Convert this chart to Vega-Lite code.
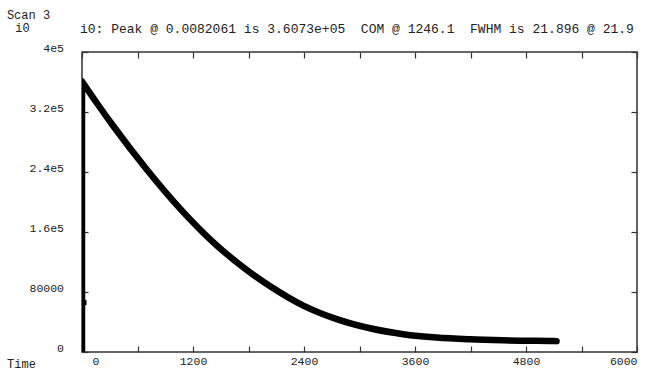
{
  "$schema": "https://vega.github.io/schema/vega-lite/v6.json",
  "width": 555,
  "height": 300,
  "autosize": {"type": "none"},
  "padding": {"left": 82, "top": 52, "right": 9, "bottom": 19},
  "background": "white",
  "config": {
    "view": {"stroke": "#333", "strokeWidth": 1.5},
    "font": "Liberation Mono",
    "axis": {
      "grid": false,
      "domain": false,
      "tickColor": "#333",
      "tickSize": -6,
      "tickWidth": 1.2,
      "labelFont": "Liberation Mono",
      "labelFontSize": 11.5,
      "labelColor": "#222",
      "labelOverlap": false,
      "titleFont": "Liberation Mono",
      "titleFontSize": 12,
      "titleFontWeight": "normal",
      "titleColor": "#222"
    }
  },
  "title": {
    "text": "i0: Peak @ 0.0082061 is 3.6073e+05\u00a0\u00a0COM @ 1246.1\u00a0\u00a0FWHM is 21.896 @ 21.9",
    "anchor": "start",
    "frame": "group",
    "font": "Liberation Mono",
    "fontSize": 13,
    "fontWeight": "normal",
    "color": "#222",
    "offset": -28,
    "dx": -2
  },
  "datasets": {
    "rise": [
      {"i": 0, "t": 0, "v": 0},
      {"i": 1, "t": 0.004, "v": 66000},
      {"i": 2, "t": 0.0082, "v": 360730}
    ],
    "curve": [
      {"t": 0.0082, "v": 360730},
      {"t": 160, "v": 332000},
      {"t": 340, "v": 301000},
      {"t": 700, "v": 243400},
      {"t": 1060, "v": 191200},
      {"t": 1420, "v": 146200},
      {"t": 1780, "v": 109500},
      {"t": 2034, "v": 87700},
      {"t": 2393, "v": 61900},
      {"t": 2754, "v": 43850},
      {"t": 3113, "v": 31650},
      {"t": 3472, "v": 23750},
      {"t": 3833, "v": 19240},
      {"t": 4192, "v": 16900},
      {"t": 4551, "v": 15540},
      {"t": 5091, "v": 14570},
      {"t": 5130, "v": 14500}
    ],
    "dots": [
      {"t": 20, "v": 66000}
    ]
  },
  "layer": [
    {
      "data": {"name": "curve"},
      "mark": {"type": "line", "color": "black", "strokeWidth": 6.5, "strokeCap": "round", "strokeJoin": "round", "interpolate": "monotone", "clip": true},
      "encoding": {
        "x": {
          "field": "t", "type": "quantitative",
          "scale": {"domain": [0, 6000], "nice": false, "zero": false},
          "axis": {
            "orient": "bottom",
            "values": [0, 600, 1200, 1800, 2400, 3000, 3600, 4200, 4800, 5400, 6000],
            "labelExpr": "datum.value % 1200 == 0 ? format(datum.value, 'd') : ''",
            "labelFlush": true,
            "labelPadding": 9.5,
            "labelOffset": {"condition": {"test": "datum.value == 0", "value": 10}, "value": 0},
            "title": "Time",
            "titleAngle": 0,
            "titleX": -61,
            "titleY": 11,
            "titleAlign": "center",
            "titleBaseline": "middle"
          }
        },
        "y": {
          "field": "v", "type": "quantitative",
          "scale": {"domain": [0, 400000], "nice": false},
          "axis": {
            "orient": "left",
            "values": [0, 80000, 160000, 240000, 320000, 400000],
            "labelExpr": "datum.value == 0 ? '0' : datum.value < 100000 ? format(datum.value, 'd') : replace(format(datum.value, '.2~e'), '+', '')",
            "labelPadding": 24.5,
            "labelOffset": -4,
            "title": "i0",
            "titleAngle": 0,
            "titleX": -60,
            "titleY": -25,
            "titleAlign": "center",
            "titleBaseline": "middle"
          }
        }
      }
    },
    {
      "data": {"name": "curve"},
      "mark": {"type": "point", "opacity": 0},
      "encoding": {
        "x": {
          "field": "t", "type": "quantitative",
          "axis": {
            "orient": "top",
            "values": [0, 600, 1200, 1800, 2400, 3000, 3600, 4200, 4800, 5400, 6000],
            "labels": false,
            "title": "Scan 3",
            "titleAngle": 0,
            "titleX": -54,
            "titleY": -38,
            "titleAlign": "center",
            "titleBaseline": "middle"
          }
        },
        "y": {
          "field": "v", "type": "quantitative",
          "axis": {
            "orient": "right",
            "values": [0, 80000, 160000, 240000, 320000, 400000],
            "labels": false,
            "title": null
          }
        }
      }
    },
    {
      "data": {"name": "rise"},
      "mark": {"type": "line", "color": "black", "strokeWidth": 6.5, "strokeJoin": "round", "interpolate": "linear", "clip": true},
      "encoding": {
        "x": {"field": "t", "type": "quantitative", "axis": null},
        "y": {"field": "v", "type": "quantitative", "axis": null},
        "order": {"field": "i", "type": "quantitative"}
      }
    },
    {
      "data": {"name": "dots"},
      "mark": {"type": "square", "color": "black", "opacity": 1, "size": 28, "clip": true},
      "encoding": {
        "x": {"field": "t", "type": "quantitative", "axis": null},
        "y": {"field": "v", "type": "quantitative", "axis": null}
      }
    }
  ],
  "resolve": {"axis": {"x": "independent", "y": "independent"}}
}
